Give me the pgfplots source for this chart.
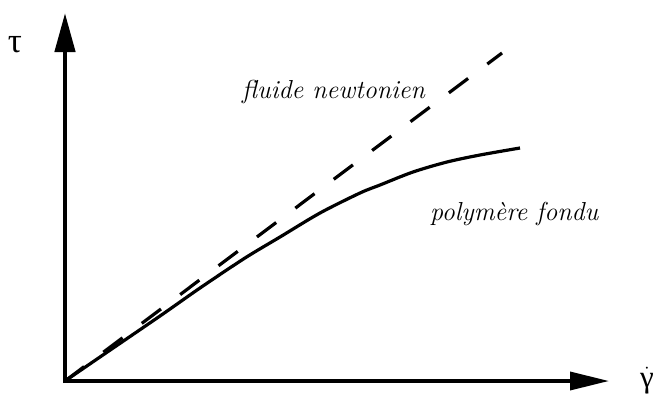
\documentclass[border=0pt]{standalone}
\usepackage{fontspec}
\newfontfamily\grk{Liberation Serif}
\usepackage{pgfplots}
\pgfplotsset{compat=1.18}
\usetikzlibrary{arrows.meta}
\begin{document}
\begin{tikzpicture}
\begin{axis}[
  width=658pt, height=394pt, scale only axis,
  xmin=0, xmax=658, ymin=0, ymax=394, y dir=reverse,
  hide axis, clip=false,
]
% axes
\addplot[black, line width=4.5pt, -{Triangle[length=39pt,width=20pt]}] coordinates {(65,383) (65,13)};
\addplot[black, line width=3.5pt, -{Triangle[length=39pt,width=18pt]}] coordinates {(63,381) (609,381)};
% newtonian fluid
\addplot[black, line width=3.2pt, dash pattern=on 24pt off 24pt] coordinates {(65,381) (502,53)};
% polymer melt
\addplot[black, line width=3.2pt, smooth] coordinates {
 (65,381) (100,357) (160,316) (200,288) (245,258) (280,237) (320,213)
 (360,193) (380,185) (413,172) (447,162) (480,155) (520,148)
};
\node[anchor=base west, inner sep=0pt, font=\fontsize{26}{26}\selectfont\itshape] at (axis cs:242,98) {fluide newtonien};
\node[anchor=base west, inner sep=0pt, font=\fontsize{26}{26}\selectfont\itshape] at (axis cs:430,220) {polymère fondu};
\node[inner sep=0pt, font=\fontsize{35}{35}\selectfont\grk] at (axis cs:15,45) {τ};
\node[anchor=base west, inner sep=0pt, font=\fontsize{31}{31}\selectfont] at (axis cs:640,387) {$\dot{\hbox{\grk γ}}$};
\end{axis}
\pgfresetboundingbox
\path (current axis.south west) rectangle (current axis.north east);
\end{tikzpicture}
\end{document}
